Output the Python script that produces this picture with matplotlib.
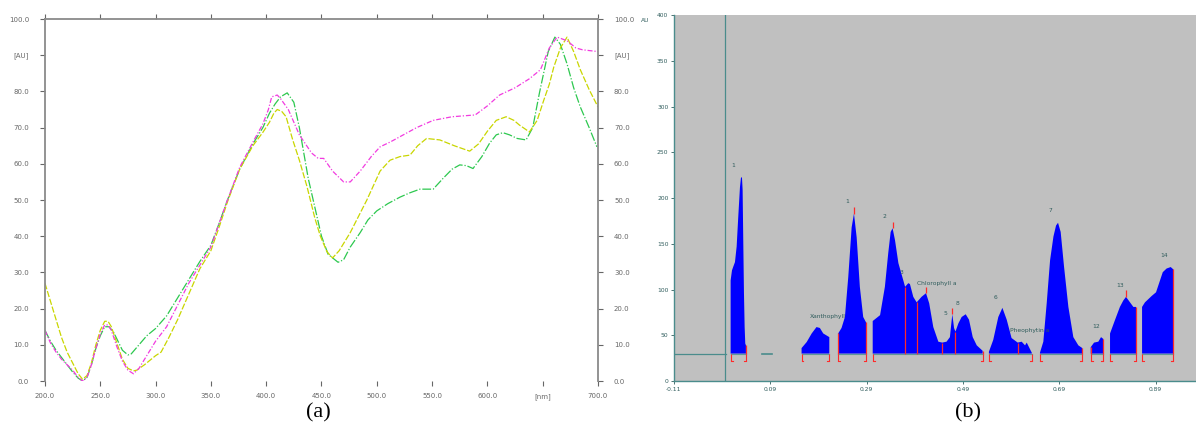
import numpy as np
import matplotlib.pyplot as plt

plt.rcParams["font.family"] = "DejaVu Sans"

# ---------------- panel (a): absorption spectra ----------------
wl_magenta = [200, 205, 210, 215, 220, 225, 230, 234, 238, 242, 246, 250, 254, 257, 260,
              265, 270, 275, 280, 285, 290, 295, 300, 310, 320, 330, 340, 350, 358, 365,
              376, 388, 397, 402, 405, 410, 413, 420, 430, 441, 447, 452, 460, 470, 476,
              485, 495, 503, 512, 521, 536, 551, 568, 589, 600, 611, 625, 638, 648, 656,
              663, 672, 680, 686, 700]
ab_magenta = [14, 10.5, 8, 6, 4.5, 3, 1, 0, 1, 4.5, 9, 13, 15.5, 15.5, 14,
              9.5, 5.5, 3, 2, 3.5, 6, 8.5, 11, 15, 21, 27, 32, 37, 44, 50,
              59, 66, 71, 75, 78.5, 79, 78, 75, 68, 63, 61.5, 61.5, 58, 55, 55,
              58, 62, 64.7, 66, 67.5, 70, 72, 73, 73.5, 76, 79, 81, 83.5, 86, 92,
              95, 94, 92, 91.5, 91]

wl_green = [200, 205, 210, 215, 220, 225, 230, 234, 238, 242, 246, 250, 254, 258, 262,
            266, 270, 275, 278, 285, 292, 300, 310, 320, 330, 340, 350, 358, 365, 376,
            388, 397, 403, 408, 413, 419, 425, 430, 438, 444, 450, 456, 465, 470, 476,
            485, 492, 500, 510, 521, 530, 539, 551, 560, 568, 575, 581, 587, 595, 602,
            608, 614, 620, 627, 635, 641, 647, 655, 661, 666, 672, 678, 684, 692, 699]
ab_green = [14, 11, 8.5, 6.5, 4.5, 2.5, 0.8, 0, 1, 4.5, 9, 12.5, 15, 15, 13.5,
            11, 8.5, 7.2, 7.5, 10, 12.5, 14.5, 18, 23, 28, 33, 37.5, 44, 50, 58.5,
            65.5, 70, 74, 76.5, 78.5, 79.6, 77, 70, 56, 48, 40, 35, 32.8, 33.5, 37,
            41, 44.5, 47, 49, 50.8, 52, 53, 53, 56, 58.5, 59.7, 59.5, 58.7, 62, 65.7,
            68, 68.6, 68, 67, 66.6, 70, 79.5, 91, 95, 93, 87.6, 81, 75.7, 70, 64.7]

wl_yellow = [200, 205, 210, 215, 220, 225, 230, 234, 238, 242, 246, 250, 254, 257, 260,
             265, 270, 275, 280, 283, 290, 300, 305, 312, 320, 330, 340, 350, 358, 365,
             376, 388, 397, 403, 407, 410, 414, 418, 424, 430, 437, 444, 449, 455, 460,
             466, 476, 491, 503, 512, 521, 530, 537, 545, 557, 570, 584, 592, 600, 608,
             617, 624, 629, 638, 645, 651, 656, 660, 666, 672, 678, 684, 692, 700]
ab_yellow = [27, 22, 17, 12, 8, 5, 2, 0.5, 1.5, 5, 10, 14, 16.5, 16.5, 15,
             10.5, 6, 3.5, 2.8, 3, 4.5, 7, 8, 12, 17, 24, 31, 36, 43, 49.5,
             58.5, 65, 68.7, 71.5, 74, 75, 74.5, 73, 66.6, 61, 53.6, 45, 40, 35.7, 34,
             36, 41, 50, 58, 61, 62, 62.4, 65, 67, 66.6, 65, 63.5, 65.5, 69, 72,
             73, 72, 70.7, 68.8, 72, 77.6, 82, 86.7, 92, 95, 91, 86, 80.5, 75.7]

wl_ticks = [200, 250, 300, 350, 400, 450, 500, 550, 600, 650, 700]
wl_labels = ["200.0", "250.0", "300.0", "350.0", "400.0", "450.0", "500.0",
             "550.0", "600.0", "[nm]", "700.0"]
ab_ticks = [0, 10, 20, 30, 40, 50, 60, 70, 80, 90, 100]
ab_labels = ["0.0", "10.0", "20.0", "30.0", "40.0", "50.0", "60.0", "70.0",
             "80.0", "[AU]", "100.0"]

# ---------------- panel (b): chromatogram ----------------
nan = np.nan
chrom_x = [0.0077, 0.0105, 0.0132, 0.0167, 0.0202, 0.0236, 0.0271, 0.0291, 0.0312,
           0.0326, 0.0340, 0.0354, 0.0368, 0.0381, 0.0395, nan,
           0.155, 0.1656, 0.176, 0.186, 0.193, 0.200, 0.2126, nan,
           0.231, 0.238, 0.245, 0.252, 0.259, 0.2638, 0.2694, 0.276, 0.283, 0.289, nan,
           0.3027, 0.318, 0.328, 0.335, 0.340, 0.344, 0.349, 0.356, 0.363, 0.370,
           0.3766, 0.380, 0.387, 0.394, 0.404, 0.4134, 0.420, 0.4285, 0.439, 0.447,
           0.456, 0.463, 0.468, 0.4716, 0.4745, 0.4806, 0.4874, 0.4958, 0.5027, 0.5104,
           0.5187, 0.529, 0.531, nan,
           0.544, 0.553, 0.5635, 0.572, 0.581, 0.591, 0.6038, 0.612, 0.619, 0.6225,
           0.633, nan,
           0.650, 0.657, 0.664, 0.671, 0.678, 0.6834, 0.6875, 0.693, 0.700, 0.709,
           0.7193, 0.7297, 0.738, nan,
           0.7554, 0.7623, 0.7712, 0.7768, 0.7816, nan,
           0.7955, 0.806, 0.816, 0.823, 0.8287, 0.837, 0.844, 0.8495, nan,
           0.862, 0.868, 0.882, 0.891, 0.898, 0.905, 0.913, 0.9215, 0.927]
chrom_au = [110, 121, 125, 130, 147, 180, 212, 222, 223,
            209, 151, 96, 59, 41, 39, nan,
            36, 42.6, 52, 59, 58, 52, 48, nan,
            52, 58, 70, 114, 168, 183, 157, 103, 70, 64, nan,
            65.6, 72, 103, 140, 163, 167, 154, 129, 116, 103,
            107, 106, 92, 86, 92, 96, 85, 59, 43, 42,
            43, 48, 73, 58, 54, 63, 70, 73, 67, 48,
            39, 34, 33, nan,
            32, 45, 70, 80, 67, 47, 42, 43, 39, 42,
            31, nan,
            31, 43, 85, 132, 158, 170, 173, 163, 125, 81,
            48, 39, 36, nan,
            37, 42, 43, 48, 46, nan,
            52, 67, 81, 88, 92, 86, 81, 81, nan,
            81, 86, 93, 97, 108, 119, 123, 124.6, 122]
baseline_au = 30

split_x = [0.0395, 0.231, 0.289, 0.370, 0.394, 0.447, 0.4745, 0.531, 0.6038,
           0.738, 0.7554, 0.7816, 0.8495, 0.927]
apex_x = [0.2638, 0.344, 0.4134, 0.468, 0.8287]

peak_names = ["1", "1", "2", "3", "Chlorophyll a", "5", "8", "6", "Pheophytin a",
              "7", "12", "13", "14", "Xanthophyll"]
peak_lx = [0.0125, 0.249, 0.328, 0.363, 0.394, 0.4528, 0.479, 0.5567, 0.588,
           0.671, 0.7658, 0.816, 0.908, 0.1725]
peak_ly = [236, 196, 180, 119, 107, 74, 85, 91, 55, 186, 60, 104, 137, 71]

rt_ticks = [-0.11, 0.09, 0.29, 0.49, 0.69, 0.89]
rt_labels = ["-0.11", "0.09", "0.29", "0.49", "0.69", "0.89"]
au_ticks = [0, 50, 100, 150, 200, 250, 300, 350, 400]

fig = plt.figure(figsize=(11.96, 4.32), dpi=100, facecolor="white")

# ---- (a)
axa = fig.add_axes([0.0376, 0.118, 0.4624, 0.838])
axa.plot(wl_green, ab_green, color="#2dc84f", lw=0.9, ls=(0, (7, 1.5, 1, 1.5)))
axa.plot(wl_yellow, ab_yellow, color="#c9d600", lw=0.9, ls=(0, (5, 1.5)))
axa.plot(wl_magenta, ab_magenta, color="#f23be0", lw=0.9, ls=(0, (4, 1.5, 1, 1.5)))
axa.set_xlim(200, 700)
axa.set_ylim(0, 100)
for s in ["left", "top", "right"]:
    axa.spines[s].set_color("#8a8a8a")
    axa.spines[s].set_linewidth(1.3)
axa.spines["bottom"].set_visible(False)
axa.set_xticks(wl_ticks)
axa.set_xticklabels(wl_labels)
axa.set_yticks(ab_ticks)
axa.set_yticklabels(ab_labels)
axa.tick_params(axis="both", labelsize=5, colors="#666666", length=3.5, width=0.8,
                direction="out", top=True, right=True, labelright=True, pad=5)
axa.tick_params(axis="y", pad=8)
axa.text(0.5, -0.1 / 0.838 - 0.0, "", transform=axa.transAxes)

# ---- (b)
axb = fig.add_axes([0.5635, 0.118, 0.4365, 0.847])
axb.set_facecolor("#c0c0c0")
cx = np.array(chrom_x, dtype=float)
cy = np.array(chrom_au, dtype=float)
axb.fill_between(cx, baseline_au, cy, color="#0000ff", lw=0, zorder=2)

# baselines under each segment and baseline brackets
good = np.isfinite(cx)
starts = [cx[i] for i in range(len(cx)) if good[i] and (i == 0 or not good[i - 1])]
ends = [cx[i] for i in range(len(cx)) if good[i] and (i == len(cx) - 1 or not good[i + 1])]
for s, e in zip(starts, ends):
    axb.plot([s, e], [baseline_au, baseline_au], color="#5f9a9a", lw=0.8, zorder=3)
teal = "#4a8c8c"
axb.plot([-0.11, -0.001], [baseline_au, baseline_au], color=teal, lw=0.9, zorder=3)
axb.plot([0.073, 0.093], [baseline_au, baseline_au], color=teal, lw=1.2, zorder=3)
axb.axvline(-0.0035, color=teal, lw=0.9, zorder=3)

red = "#ff2a2a"
split_h = np.interp(split_x, cx[good], cy[good])
axb.vlines(split_x, baseline_au, split_h, color=red, lw=0.9, zorder=4)
apex_h = np.interp(apex_x, cx[good], cy[good])
axb.vlines(apex_x, apex_h, apex_h + 7, color=red, lw=0.9, zorder=4)
axb.vlines(starts + ends, 22, baseline_au, color=red, lw=0.8, zorder=4)
for s in starts:
    axb.plot([s, s + 0.004], [22, 22], color=red, lw=0.8, zorder=4)
for e in ends:
    axb.plot([e - 0.004, e], [22, 22], color=red, lw=0.8, zorder=4)

for name, lx, ly in zip(peak_names, peak_lx, peak_ly):
    ha = "left" if len(name) > 2 else "center"
    axb.text(lx, ly, name, fontsize=4.3, color="#2f5c5c", ha=ha, va="center", zorder=5)

axb.set_xlim(-0.11, 0.974)
axb.set_ylim(0, 400)
axb.set_xticks(rt_ticks)
axb.set_xticklabels(rt_labels)
axb.set_yticks(au_ticks)
for s in ["top", "right"]:
    axb.spines[s].set_visible(False)
for s in ["left", "bottom"]:
    axb.spines[s].set_color("#4a8c8c")
    axb.spines[s].set_linewidth(1.0)
axb.tick_params(axis="both", labelsize=4.3, colors="#2f5c5c", length=2.5, width=0.6,
                direction="out", pad=1.5)
fig.text(645 / 1196, 1 - 21 / 432, "AU", fontsize=4.3, color="#2f5c5c",
         ha="center", va="center")

# panel captions
fig.text(318 / 1196, 1 - 413 / 432, "(a)", fontsize=16, family="Liberation Serif",
         ha="center", va="center")
fig.text(968 / 1196, 1 - 413 / 432, "(b)", fontsize=16, family="Liberation Serif",
         ha="center", va="center")

fig.savefig("out.png", dpi=100, facecolor="white")
